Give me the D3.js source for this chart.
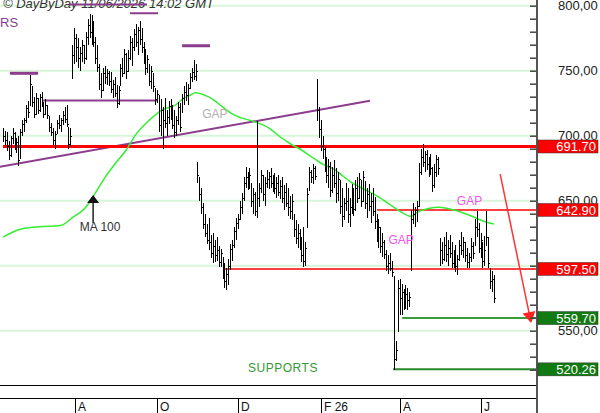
<!DOCTYPE html>
<html><head><meta charset="utf-8">
<script src="https://cdn.jsdelivr.net/npm/d3@7"></script>
<style>body{margin:0;background:#fff}svg{display:block}text{font-family:"Liberation Sans",Arial,sans-serif}</style>
</head><body><div id="chart"></div>
<script>
// ---- data (daily bars, index 0 = first session shown) ----
const highs=[706,704,703,696,700,706,703,698,700,705,
712,714,724,727,747,738,730,733,729,732,
734,726,728,724,715,710,706,704,712,716,
714,719,722,724,707,706,770,783,778,775,
768,774,770,780,790,794,793,788,776,770,
755,748,752,754,751,750,749,743,745,739,
738,755,760,767,764,766,777,775,782,786,
784,788,783,772,767,762,755,754,748,737,
735,731,728,722,729,720,727,728,724,720,
715,726,725,732,738,741,740,748,752,758,
755,680,668,660,648,640,632,637,624,625,
620,622,615,613,607,602,598,605,617,620,
630,637,640,650,656,668,676,672,675,664,
660,657,711,664,674,670,668,674,672,675,
670,671,668,670,666,668,662,664,660,654,
655,640,635,632,628,622,630,618,660,676,
674,678,677,744,722,712,700,691,684,682,
680,676,681,675,672,666,660,652,664,660,
652,663,660,666,668,671,666,673,665,660,
663,656,660,653,640,636,630,625,620,612,
608,610,604,592,542,589,590,586,582,585,
583,580,643,648,645,650,679,690,694,688,
689,684,686,676,678,685,684,621,618,622,
626,620,624,618,612,616,608,620,626,622,
618,614,610,621,618,636,642,633,625,618,
623,642,622,598,596,593];
const lows=[695,693,688,681,684,694,689,687,677,683,
700,703,710,714,724,722,714,716,717,718,
722,714,716,713,703,700,693,690,702,705,
703,708,710,707,690,692,744,755,757,752,
750,757,755,758,770,775,770,768,755,749,
735,729,735,740,739,738,733,729,730,721,
724,739,745,748,744,750,758,754,765,768,
762,770,764,755,747,748,738,736,734,724,
725,703,700,690,706,700,709,712,705,698,
700,708,703,718,724,727,724,737,741,743,
742,664,650,640,628,622,617,612,606,602,
603,604,599,599,590,583,581,585,597,604,
614,620,628,635,640,650,660,658,659,645,
640,638,637,645,656,650,646,660,659,660,
657,655,652,654,651,648,643,645,638,636,
635,622,617,614,612,603,599,600,630,658,
664,663,666,712,698,688,682,672,664,660,
653,656,660,648,650,640,630,635,642,633,
630,640,638,642,648,652,645,650,644,637,
642,633,638,628,618,614,610,607,605,596,
594,596,591,520,527,550,562,562,566,567,
566,568,597,632,630,634,645,670,676,672,
674,668,670,657,660,668,670,600,601,604,
603,600,606,598,598,595,593,604,608,606,
603,598,598,603,605,616,622,610,606,598,
600,616,598,582,580,571];
const closes=[700,697,692,685,698,702,693,695,681,703,
709,712,721,718,740,726,717,729,720,730,
725,717,724,716,707,703,697,701,710,708,
712,716,713,709,694,700,762,775,768,760,
764,770,760,776,785,780,788,772,760,753,
740,735,748,745,748,742,736,740,733,725,
735,752,748,763,750,760,772,768,778,772,
781,774,768,766,752,759,742,750,738,728,
732,708,720,712,710,714,723,716,708,703,
712,722,707,729,734,731,737,745,749,746,
750,670,655,645,632,625,620,618,610,615,
608,612,603,610,595,588,594,600,613,616,
627,633,636,645,652,664,668,662,670,650,
655,642,652,660,670,655,664,667,669,664,
666,660,664,657,661,652,657,648,645,642,
650,628,621,625,616,608,604,614,655,672,
668,675,669,720,705,692,690,678,670,677,
658,670,664,656,667,646,638,648,650,640,
645,656,644,660,652,667,650,668,648,655,
646,650,642,634,624,630,615,618,609,600,
602,598,595,528,535,583,575,580,571,578,
574,576,636,640,643,646,672,684,680,686,
678,680,675,662,672,682,675,612,605,616,
609,614,610,602,608,600,605,616,612,618,
608,603,607,615,610,630,628,614,620,604,
612,622,602,588,590,575];
const maIndex=[0,9,19,30,36,43,48,53,58,64,69,76,83,90,93,97,100,105,109,115,120,130,138,144,149,155,160,165,172,181,190,195,202,207,212,215,221,226,231,242,250,255];
const maValues=[622,628,630,631,637,645,656,668,678,689,701,712,720,724,728,731,733,731,728,721,716,711,706,699,694,689,684,679,674,664,657,653,646,641,638,641,644,645,644,639,634,632];
const yTicks=[800,750,700,650,600,550];
const monthIndex=[37.5,80,122,165,206,248.5];
const monthLabels=["A","O","D","F 26","A","J"];
const levelValues=[691.70,642.90,597.50,559.70,520.26];
const levelStart=[0,194.3,114.3,207.3,202.6];
const levelKinds=["res","res","res","sup","sup"];
const resistIdx=[[3.6,18.2],[20.8,80],[34.8,74.8],[66,80.5],[93,107.5]];
const resistVal=[748,727,801,794.2,769.2];
const trendIdx=[-1.6,190.6];
const trendVal=[676.1,726.9];

// ---- chart ----
const W=600,H=413,axisX=537,plotBottom=385,timeTop=398;
const svg=d3.select("#chart").append("svg").attr("width",W).attr("height",H);
const x=d3.scaleLinear().domain([0,255]).range([3,494]);
const y=d3.scaleLinear().domain([550,800]).range([330.7,5.7]);
const fmt=d3.formatLocale({decimal:",",thousands:".",grouping:[3],currency:["",""]}).format(".2f");

svg.append("rect").attr("width",W).attr("height",H).attr("fill","#fff");

// grid
svg.append("g").selectAll("line").data(yTicks).join("line")
 .attr("x1",0).attr("x2",axisX).attr("y1",d=>y(d)).attr("y2",d=>y(d))
 .attr("stroke","#d9f5d9").attr("stroke-width",2);

// copyright
svg.append("text").attr("x",3).attr("y",8).attr("font-size",13).attr("font-style","italic")
 .attr("fill","#333").text("© DayByDay 11/06/2026  14:02 GMT");
svg.append("text").attr("x",0).attr("y",27).attr("font-size",13).attr("fill","#8c3c8c").text("RS");

// trendline
svg.append("line").attr("x1",x(trendIdx[0])).attr("y1",y(trendVal[0]))
 .attr("x2",x(trendIdx[1])).attr("y2",y(trendVal[1])).attr("stroke","#8c3c8c").attr("stroke-width",2);

// resistance segments
const rw=[3,2,2,2,3];
svg.append("g").selectAll("line").data(resistVal).join("line")
 .attr("x1",(d,i)=>x(resistIdx[i][0])).attr("x2",(d,i)=>x(resistIdx[i][1]))
 .attr("y1",d=>y(d)).attr("y2",d=>y(d)).attr("stroke","#8c3c8c").attr("stroke-width",(d,i)=>rw[i]);

// level lines
svg.append("g").selectAll("line").data(levelValues).join("line")
 .attr("x1",(d,i)=>x(levelStart[i])).attr("x2",axisX).attr("y1",d=>y(d)).attr("y2",d=>y(d))
 .attr("stroke",(d,i)=>levelKinds[i]==="res"?"#ff0000":(i===3?"#3c9c3c":"#2a8a2a"))
 .attr("stroke-width",(d,i)=>i===0?3:(i>=3?2:1.5));

// MA
const maData=maIndex.map((d,i)=>[d,maValues[i]]);
svg.append("path").datum(maData).attr("fill","none").attr("stroke","#33ee33").attr("stroke-width",1.5)
 .attr("d",d3.line().x(d=>x(d[0])).y(d=>y(d[1])).curve(d3.curveMonotoneX));

// bars
const bars=svg.append("g").attr("stroke","#000").attr("stroke-width",1).attr("shape-rendering","crispEdges");
highs.forEach((h,i)=>{
  const xp=Math.round(x(i))+0.5;
  const o=i>0?closes[i-1]:closes[i];
  bars.append("line").attr("x1",xp).attr("x2",xp).attr("y1",y(h)).attr("y2",y(lows[i]));
  const oy=Math.round(y(Math.max(Math.min(o,h),lows[i])))+0.5;
  bars.append("line").attr("x1",xp-1).attr("x2",xp).attr("y1",oy).attr("y2",oy);
  const cy=Math.round(y(closes[i]))+0.5;
  bars.append("line").attr("x1",xp).attr("x2",xp+1.5).attr("y1",cy).attr("y2",cy);
});

// annotations
const pink="#ee55ee";
const gapLabels=[{i:110,v:713.9,c:"#b0b0b0"},{i:242.3,v:646.7,c:pink},{i:206.8,v:616.7,c:pink}];
svg.append("g").selectAll("text").data(gapLabels).join("text")
 .attr("x",d=>x(d.i)).attr("y",d=>y(d.v)).attr("text-anchor","middle").attr("font-size",12)
 .attr("fill",d=>d.c).text("GAP");
svg.append("text").attr("x",x(127.3)).attr("y",y(518.3)).attr("font-size",12).attr("fill","#339933")
 .attr("letter-spacing",0.5).text("SUPPORTS");

// MA 100 arrow
const maArrow={i:46.8,top:654.3,bottom:632.8,label:627};
svg.append("line").attr("x1",x(maArrow.i)).attr("x2",x(maArrow.i)).attr("y1",y(maArrow.top)+6).attr("y2",y(maArrow.bottom))
 .attr("stroke","#222").attr("stroke-width",1.5);
svg.append("path").attr("d",`M${x(maArrow.i)},${y(maArrow.top)} l-6,8 l12,0 z`).attr("fill","#111");
svg.append("text").attr("x",x(maArrow.i)+7).attr("y",y(maArrow.label)).attr("text-anchor","middle")
 .attr("font-size",12).attr("fill","#333").text("MA 100");

// red projection arrow
const projStart=[258.2,670.5], projEnd=[274.3,555.9];
const ax1=x(projStart[0]),ay1=y(projStart[1]),ax2=x(projEnd[0]),ay2=y(projEnd[1]);
const ang=Math.atan2(ay2-ay1,ax2-ax1);
svg.append("line").attr("x1",ax1).attr("y1",ay1).attr("x2",ax2-8*Math.cos(ang)).attr("y2",ay2-8*Math.sin(ang))
 .attr("stroke","#ff3333").attr("stroke-width",1.5);
const hl=11,hw=6.5;
const bx=ax2-hl*Math.cos(ang),by=ay2-hl*Math.sin(ang);
svg.append("path").attr("d",`M${ax2},${ay2} L${bx+hw*Math.sin(ang)},${by-hw*Math.cos(ang)} L${bx-hw*Math.sin(ang)},${by+hw*Math.cos(ang)} Z`)
 .attr("fill","#ff2222");

// bottom time axis
svg.append("line").attr("x1",0).attr("x2",axisX).attr("y1",plotBottom+0.5).attr("y2",plotBottom+0.5).attr("stroke","#000");
svg.append("line").attr("x1",0).attr("x2",axisX).attr("y1",timeTop+0.5).attr("y2",timeTop+0.5).attr("stroke","#000");
const mg=svg.append("g");
mg.selectAll("line").data(monthIndex).join("line")
 .attr("x1",d=>Math.round(x(d))+0.5).attr("x2",d=>Math.round(x(d))+0.5).attr("y1",timeTop).attr("y2",H).attr("stroke","#000");
mg.selectAll("text").data(monthIndex).join("text")
 .attr("x",d=>Math.round(x(d))+3).attr("y",411).attr("font-size",12).attr("fill","#111").text((d,i)=>monthLabels[i]);

// right axis
const minor=d3.range(520,801,10);
svg.append("g").attr("transform",`translate(${axisX},0)`)
 .call(d3.axisLeft(y).tickValues(minor).tickSize(7).tickFormat(""))
 .call(g=>g.select(".domain").remove())
 .call(g=>g.selectAll("line").attr("stroke","#444").attr("stroke-width",1.5));
svg.append("line").attr("x1",axisX).attr("x2",axisX).attr("y1",0).attr("y2",H).attr("stroke","#555").attr("stroke-width",2);
// price labels hidden where a level box sits on top of them
const shownTicks=yTicks.filter(t=>!levelValues.some(v=>Math.abs(y(v)-y(t))<5));
svg.append("g").attr("transform",`translate(${axisX},0)`)
 .call(d3.axisRight(y).tickValues(shownTicks).tickSize(0).tickPadding(21).tickFormat(fmt))
 .call(g=>g.select(".domain").remove())
 .call(g=>g.selectAll("text").attr("font-size",13).attr("fill","#222").attr("font-family","'Liberation Sans',Arial,sans-serif"));

// level boxes
const lb=svg.append("g").selectAll("g").data(levelValues).join("g")
 .attr("transform",d=>`translate(${axisX+1},${y(d)})`);
lb.append("rect").attr("x",0).attr("y",-6.5).attr("width",60).attr("height",13)
 .attr("fill",(d,i)=>levelKinds[i]==="res"?"#ff0000":"#127a12").attr("stroke","#333").attr("stroke-width",0.5);
lb.append("text").attr("x",58).attr("y",0).attr("dy","0.36em").attr("text-anchor","end").attr("font-size",13)
 .attr("fill","#fff").text(d=>d.toFixed(2));
</script></body></html>
